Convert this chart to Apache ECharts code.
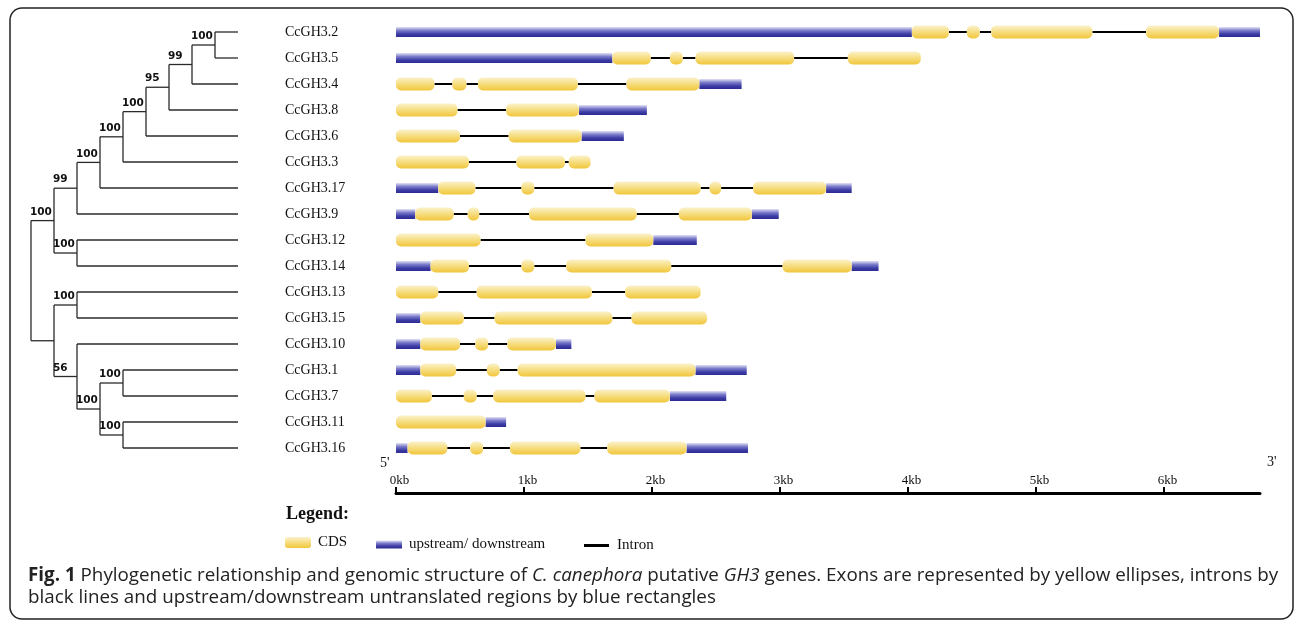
<!DOCTYPE html>
<html>
<head>
<meta charset="utf-8">
<script src="https://cdn.jsdelivr.net/npm/echarts@6/dist/echarts.min.js"></script>
<style>
  html, body { margin: 0; padding: 0; background: #fff; }
  #chart { width: 1295px; height: 620px; }
</style>
</head>
<body>
<div id="chart"></div>
<script>
// Gene order, top to bottom (same as the tree's leaf order)
const genes = ['CcGH3.2', 'CcGH3.5', 'CcGH3.4', 'CcGH3.8', 'CcGH3.6', 'CcGH3.3', 'CcGH3.17', 'CcGH3.9',
  'CcGH3.12', 'CcGH3.14', 'CcGH3.13', 'CcGH3.15', 'CcGH3.10', 'CcGH3.1', 'CcGH3.7', 'CcGH3.11', 'CcGH3.16'];

// Neighbour-joining tree with bootstrap support on internal nodes
const treeNewick = '(((((((((CcGH3.2,CcGH3.5)100,CcGH3.4)99,CcGH3.8)95,CcGH3.6)100,CcGH3.3)100,CcGH3.17)100,CcGH3.9)99,' +
  '(CcGH3.12,CcGH3.14)100)100,((CcGH3.13,CcGH3.15)100,(CcGH3.10,((CcGH3.1,CcGH3.7)100,(CcGH3.11,CcGH3.16)100)100)56));';

// Untranslated regions (upstream / downstream), kb from 5' end
const utrSegments = [
  ['CcGH3.2', 0, 4.03], ['CcGH3.2', 6.43, 6.75],
  ['CcGH3.5', 0, 1.69],
  ['CcGH3.4', 2.37, 2.70],
  ['CcGH3.8', 1.43, 1.96],
  ['CcGH3.6', 1.45, 1.78],
  ['CcGH3.17', 0, 0.33], ['CcGH3.17', 3.36, 3.56],
  ['CcGH3.9', 0, 0.15], ['CcGH3.9', 2.78, 2.99],
  ['CcGH3.12', 2.01, 2.35],
  ['CcGH3.14', 0, 0.27], ['CcGH3.14', 3.56, 3.77],
  ['CcGH3.15', 0, 0.19],
  ['CcGH3.10', 0, 0.19], ['CcGH3.10', 1.25, 1.37],
  ['CcGH3.1', 0, 0.19], ['CcGH3.1', 2.34, 2.74],
  ['CcGH3.7', 2.14, 2.58],
  ['CcGH3.11', 0.70, 0.86],
  ['CcGH3.16', 0, 0.09], ['CcGH3.16', 2.27, 2.75]
];

// Coding exons (CDS), kb from 5' end
const cdsSegments = [
  ['CcGH3.2', 4.03, 4.32], ['CcGH3.2', 4.46, 4.56], ['CcGH3.2', 4.65, 5.44], ['CcGH3.2', 5.86, 6.43],
  ['CcGH3.5', 1.69, 1.99], ['CcGH3.5', 2.14, 2.24], ['CcGH3.5', 2.34, 3.11], ['CcGH3.5', 3.53, 4.10],
  ['CcGH3.4', 0, 0.30], ['CcGH3.4', 0.44, 0.55], ['CcGH3.4', 0.64, 1.42], ['CcGH3.4', 1.80, 2.37],
  ['CcGH3.8', 0, 0.48], ['CcGH3.8', 0.86, 1.43],
  ['CcGH3.6', 0, 0.50], ['CcGH3.6', 0.88, 1.45],
  ['CcGH3.3', 0, 0.57], ['CcGH3.3', 0.94, 1.32], ['CcGH3.3', 1.35, 1.52],
  ['CcGH3.17', 0.33, 0.62], ['CcGH3.17', 0.98, 1.08], ['CcGH3.17', 1.70, 2.38], ['CcGH3.17', 2.45, 2.54], ['CcGH3.17', 2.79, 3.36],
  ['CcGH3.9', 0.15, 0.45], ['CcGH3.9', 0.56, 0.65], ['CcGH3.9', 1.04, 1.88], ['CcGH3.9', 2.21, 2.78],
  ['CcGH3.12', 0, 0.66], ['CcGH3.12', 1.48, 2.01],
  ['CcGH3.14', 0.27, 0.57], ['CcGH3.14', 0.98, 1.08], ['CcGH3.14', 1.33, 2.15], ['CcGH3.14', 3.02, 3.56],
  ['CcGH3.13', 0, 0.33], ['CcGH3.13', 0.63, 1.53], ['CcGH3.13', 1.79, 2.38],
  ['CcGH3.15', 0.19, 0.53], ['CcGH3.15', 0.77, 1.69], ['CcGH3.15', 1.84, 2.43],
  ['CcGH3.10', 0.19, 0.50], ['CcGH3.10', 0.62, 0.72], ['CcGH3.10', 0.87, 1.25],
  ['CcGH3.1', 0.19, 0.47], ['CcGH3.1', 0.71, 0.81], ['CcGH3.1', 0.95, 2.34],
  ['CcGH3.7', 0, 0.28], ['CcGH3.7', 0.53, 0.63], ['CcGH3.7', 0.76, 1.48], ['CcGH3.7', 1.55, 2.14],
  ['CcGH3.11', 0, 0.70],
  ['CcGH3.16', 0.09, 0.40], ['CcGH3.16', 0.58, 0.68], ['CcGH3.16', 0.89, 1.44], ['CcGH3.16', 1.65, 2.27]
];

// Scale bar
const scaleTicksKb = [0, 1, 2, 3, 4, 5, 6];
const scaleMaxKb = 6.75;

// Caption, as styled runs per line: b = bold, i = italic
const captionLine1 = [
  ['Fig. 1', 'b'], [' Phylogenetic relationship and genomic structure of ', ''], ['C. canephora', 'i'],
  [' putative ', ''], ['GH3', 'i'], [' genes. Exons are represented by yellow ellipses, introns by', '']
];
const captionLine2 = [
  ['black lines and upstream/downstream untranslated regions by blue rectangles', '']
];

// ---- tree layout -------------------------------------------------------
function parseNewick(s) {
  let i = 0;
  function node() {
    const n = { children: [] };
    if (s[i] === '(') {
      i++;
      n.children.push(node());
      while (s[i] === ',') { i++; n.children.push(node()); }
      i++;
    }
    let tok = '';
    while (i < s.length && !',();'.includes(s[i])) tok += s[i++];
    if (n.children.length) n.support = tok || ''; else n.name = tok;
    return n;
  }
  return node();
}

const tree = parseNewick(treeNewick);
let leafDepth = 0;
(function setDepth(n, d) {
  n.depth = d;
  if (!n.children.length) leafDepth = Math.max(leafDepth, d);
  n.children.forEach(c => setDepth(c, d + 1));
})(tree, 0);
(function place(n) {
  if (!n.children.length) {
    n.x = leafDepth;
    n.y = genes.indexOf(n.name);
  } else {
    n.children.forEach(place);
    n.x = n.depth;
    const ys = n.children.map(c => c.y);
    n.y = (Math.min(...ys) + Math.max(...ys)) / 2;
  }
})(tree);

const hBranches = [], hSupport = [], vBranches = [];
(function collect(n) {
  if (!n.children.length) return;
  const ys = n.children.map(c => c.y);
  vBranches.push([n.x, Math.min(...ys), Math.max(...ys)]);
  n.children.forEach(c => {
    hBranches.push([n.x, c.x, c.y]);
    hSupport.push(c.support || '');
    collect(c);
  });
})(tree);

// ---- gene structure data -----------------------------------------------
const toRows = segs => segs.map(s => [s[1], s[2], genes.indexOf(s[0])]);
const utrRows = toRows(utrSegments);
const cdsRows = toRows(cdsSegments);
const intronRows = [];
genes.forEach((g, gi) => {
  const parts = utrRows.concat(cdsRows).filter(r => r[2] === gi).sort((a, b) => a[0] - b[0]);
  for (let k = 1; k < parts.length; k++) {
    if (parts[k][0] > parts[k - 1][1] + 1e-6) intronRows.push([parts[k - 1][1], parts[k][0], gi]);
  }
});

const LG = echarts.graphic.LinearGradient;
const cdsFill = () => new LG(0, 0, 0, 1, [
  { offset: 0, color: '#fbf2cc' }, { offset: 0.45, color: '#f7df86' }, { offset: 1, color: '#f1c63a' }]);
const utrFill = () => new LG(0, 0, 0, 1, [
  { offset: 0, color: '#e2e2f6' }, { offset: 0.35, color: '#7c7cca' }, { offset: 0.7, color: '#3d3da6' }, { offset: 1, color: '#2b2b92' }]);

function segmentRenderer(height, radius, fillFn) {
  return function (params, api) {
    const a = api.coord([api.value(0), api.value(2)]);
    const b = api.coord([api.value(1), api.value(2)]);
    return {
      type: 'rect',
      shape: { x: a[0], y: a[1] - height / 2, width: b[0] - a[0], height: height, r: radius },
      style: { fill: fillFn() }
    };
  };
}

// ---- caption: first line sized to run across the frame ------------------
const measureCtx = document.createElement('canvas').getContext('2d');
function textWidth(t, f) { measureCtx.font = f; return measureCtx.measureText(t).width; }
function captionFonts(size) {
  const fam = '"Open Sans", sans-serif';
  return { '': size + 'px ' + fam, b: 'bold ' + size + 'px ' + fam, i: 'italic ' + size + 'px ' + fam };
}
function runsWidth(runs, fonts) {
  return runs.reduce((s, r) => s + textWidth(r[0], fonts[r[1]]), 0);
}
const captionLeft = 28, captionRight = 1279;
const captionSize = 16 * (captionRight - captionLeft) / runsWidth(captionLine1, captionFonts(16));
const capFonts = captionFonts(captionSize);

function captionElements(runs, left, y) {
  const els = [];
  let x = left;
  runs.forEach(([txt, st]) => {
    els.push({
      type: 'text', silent: true,
      style: { text: txt, x: x, y: y, font: capFonts[st], fill: '#222', verticalAlign: 'middle', align: 'left' }
    });
    x += textWidth(txt, capFonts[st]);
  });
  return els;
}

const serif = '"Liberation Serif", "Times New Roman", serif';
const chart = echarts.init(document.getElementById('chart'), null, { renderer: 'canvas' });

chart.setOption({
  animation: false,
  backgroundColor: '#fff',
  title: [
    {
      text: 'Legend:', left: 286, top: 505, padding: 0,
      textStyle: { fontFamily: serif, fontSize: 18, fontWeight: 'bold', color: '#111' }
    }
  ],
  legend: [
    {
      data: [{ name: 'CDS', icon: 'roundRect' }], left: 285, top: 535, padding: 0,
      itemWidth: 26, itemHeight: 11, selectedMode: false,
      textStyle: { fontFamily: serif, fontSize: 15, color: '#111', padding: [0, 0, 0, 2] }
    },
    {
      data: [{ name: 'upstream/ downstream', icon: 'rect' }], left: 376, top: 537, padding: 0,
      itemWidth: 26, itemHeight: 8, selectedMode: false,
      textStyle: { fontFamily: serif, fontSize: 15, color: '#111', padding: [0, 0, 0, 2] }
    },
    {
      data: [{ name: 'Intron', icon: 'rect' }], left: 584, top: 538, padding: 0,
      itemWidth: 25, itemHeight: 3, selectedMode: false,
      textStyle: { fontFamily: serif, fontSize: 15, color: '#111', padding: [0, 0, 0, 3] }
    }
  ],
  grid: [
    { left: 31, top: 19, width: 207, height: 442 },
    { left: 396, top: 19, width: 864, height: 442 }
  ],
  xAxis: [
    { gridIndex: 0, type: 'value', min: 0, max: leafDepth, show: false },
    {
      gridIndex: 1, type: 'value', min: 0, max: scaleMaxKb, position: 'bottom', offset: 32,
      splitLine: { show: false },
      axisLine: { show: true, lineStyle: { color: '#000', width: 3 } },
      axisTick: { show: true, inside: true, length: 6, lineStyle: { color: '#000', width: 2 }, customValues: scaleTicksKb },
      axisLabel: {
        show: true, inside: true, margin: 6, customValues: scaleTicksKb,
        formatter: v => v + 'kb', fontFamily: serif, fontSize: 13, color: '#111', padding: [0, 0, 0, 7]
      }
    }
  ],
  yAxis: [
    { gridIndex: 0, type: 'value', min: -0.5, max: genes.length - 0.5, inverse: true, show: false },
    {
      gridIndex: 1, type: 'category', data: genes, inverse: true,
      axisLine: { show: false }, axisTick: { show: false }, splitLine: { show: false },
      axisLabel: { align: 'left', margin: 111, fontFamily: serif, fontSize: 14, color: '#111' }
    }
  ],
  series: [
    {
      name: 'tree-vertical', type: 'custom', xAxisIndex: 0, yAxisIndex: 0, silent: true,
      data: vBranches, encode: { x: 0, y: [1, 2] },
      renderItem: (params, api) => {
        const a = api.coord([api.value(0), api.value(1)]);
        const b = api.coord([api.value(0), api.value(2)]);
        return { type: 'line', shape: { x1: a[0], y1: a[1], x2: b[0], y2: b[1] }, style: { stroke: '#2b2b2b', lineWidth: 1.3 } };
      }
    },
    {
      name: 'tree-horizontal', type: 'custom', xAxisIndex: 0, yAxisIndex: 0, silent: true,
      data: hBranches, encode: { x: [0, 1], y: 2 },
      renderItem: (params, api) => {
        const a = api.coord([api.value(0), api.value(2)]);
        const b = api.coord([api.value(1), api.value(2)]);
        const children = [{
          type: 'line', shape: { x1: a[0], y1: a[1], x2: b[0], y2: b[1] },
          style: { stroke: '#2b2b2b', lineWidth: 1.3 }
        }];
        const sup = hSupport[params.dataIndex];
        if (sup) {
          children.push({
            type: 'text',
            style: {
              text: sup, x: a[0] - 1, y: a[1] - 3, align: 'left', verticalAlign: 'bottom',
              font: 'bold 10.5px "DejaVu Sans", sans-serif', fill: '#111'
            }
          });
        }
        return { type: 'group', children };
      }
    },
    {
      name: 'Intron', type: 'custom', xAxisIndex: 1, yAxisIndex: 1, silent: true,
      itemStyle: { color: '#000' },
      data: intronRows, encode: { x: [0, 1], y: 2 },
      renderItem: (params, api) => {
        const a = api.coord([api.value(0), api.value(2)]);
        const b = api.coord([api.value(1), api.value(2)]);
        return { type: 'line', shape: { x1: a[0], y1: a[1], x2: b[0], y2: b[1] }, style: { stroke: '#000', lineWidth: 2 } };
      }
    },
    {
      name: 'upstream/ downstream', type: 'custom', xAxisIndex: 1, yAxisIndex: 1, silent: true,
      itemStyle: { color: utrFill() },
      data: utrRows, encode: { x: [0, 1], y: 2 },
      renderItem: segmentRenderer(10, 0, utrFill)
    },
    {
      name: 'CDS', type: 'custom', xAxisIndex: 1, yAxisIndex: 1, silent: true,
      itemStyle: { color: cdsFill() },
      data: cdsRows, encode: { x: [0, 1], y: 2 },
      renderItem: segmentRenderer(13, 5, cdsFill)
    }
  ],
  graphic: [
    {
      type: 'rect', silent: true, z: -1,
      shape: { x: 10, y: 8, width: 1283, height: 611, r: 12 },
      style: { fill: 'none', stroke: '#222', lineWidth: 1.5 }
    },
    {
      type: 'text', left: 380, top: 456, silent: true,
      style: { text: "5'", font: '14px "Liberation Serif", serif', fill: '#111' }
    },
    {
      type: 'text', left: 1267, top: 455, silent: true,
      style: { text: "3'", font: '14px "Liberation Serif", serif', fill: '#111' }
    },
    {
      type: 'group', silent: true,
      children: captionElements(captionLine1, captionLeft, 576)
        .concat(captionElements(captionLine2, captionLeft, 598))
    }
  ]
});
</script>
</body>
</html>
